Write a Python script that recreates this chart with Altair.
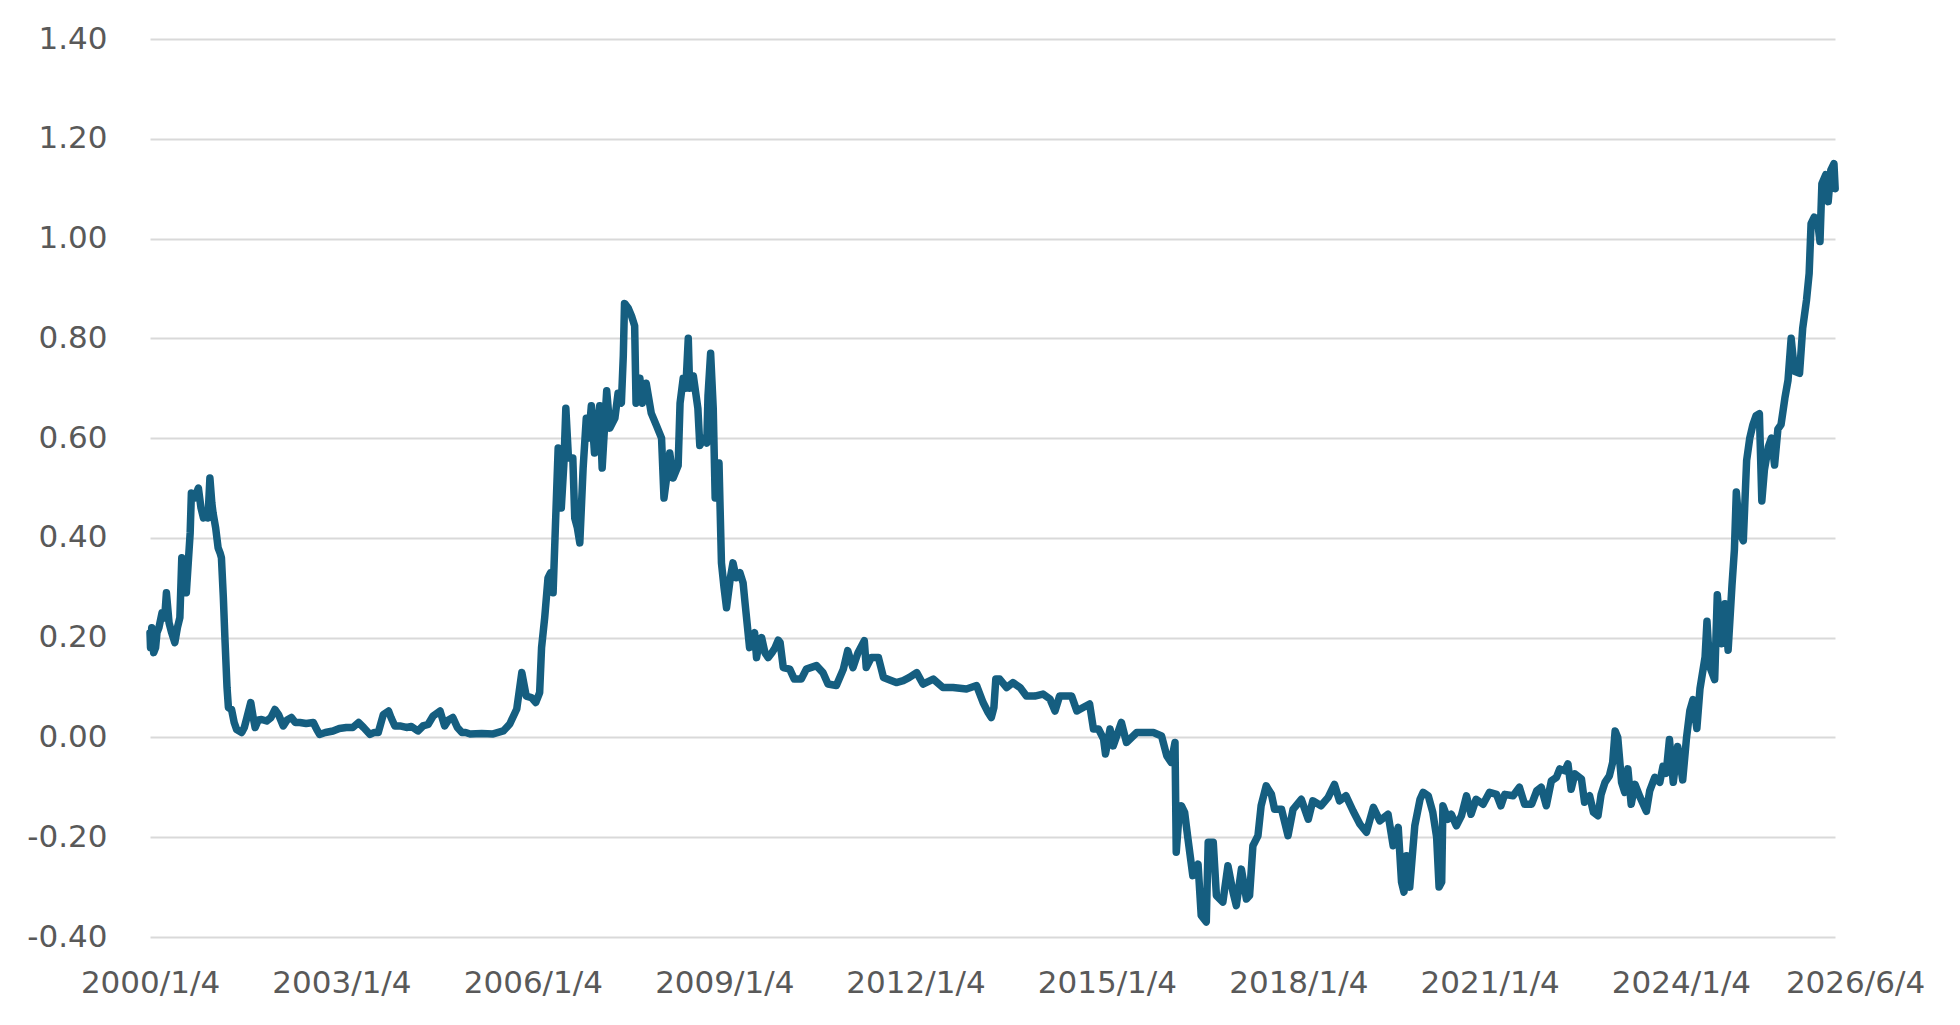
import altair as alt
import numpy as np
import pandas as pd

# years elapsed since 2000/1/4
years_since_start = [
    0.00, 0.01, 0.03, 0.06, 0.09, 0.11, 0.14, 0.19, 0.23, 0.26, 0.30, 0.34, 0.39, 0.43, 0.47, 0.50,
    0.54, 0.57, 0.60, 0.63, 0.65, 0.70, 0.76, 0.80, 0.84, 0.88, 0.91, 0.94, 0.97, 0.99, 1.03, 1.07,
    1.10, 1.12, 1.15, 1.18, 1.21, 1.23, 1.28, 1.32, 1.36, 1.44, 1.48, 1.52, 1.58, 1.62, 1.65, 1.70,
    1.75, 1.83, 1.90, 1.96, 2.02, 2.09, 2.15, 2.22, 2.28, 2.35, 2.45, 2.56, 2.62, 2.66, 2.75, 2.87,
    2.97, 3.08, 3.18, 3.27, 3.35, 3.45, 3.52, 3.58, 3.66, 3.74, 3.78, 3.84, 3.92, 4.02, 4.10, 4.20,
    4.28, 4.36, 4.44, 4.55, 4.62, 4.68, 4.75, 4.82, 4.89, 4.95, 5.02, 5.20, 5.38, 5.54, 5.64, 5.75,
    5.83, 5.90, 5.98, 6.05, 6.11, 6.14, 6.19, 6.24, 6.28, 6.32, 6.35, 6.40, 6.45, 6.49, 6.52, 6.56,
    6.63, 6.66, 6.70, 6.74, 6.79, 6.84, 6.88, 6.92, 6.97, 7.01, 7.05, 7.09, 7.13, 7.16, 7.21, 7.29,
    7.34, 7.39, 7.42, 7.44, 7.50, 7.55, 7.60, 7.62, 7.68, 7.72, 7.78, 7.86, 7.94, 8.02, 8.06, 8.10,
    8.15, 8.20, 8.28, 8.31, 8.36, 8.40, 8.44, 8.46, 8.52, 8.59, 8.62, 8.68, 8.73, 8.75, 8.79, 8.83,
    8.86, 8.92, 8.96, 9.00, 9.04, 9.10, 9.14, 9.19, 9.25, 9.30, 9.33, 9.40, 9.45, 9.48, 9.51, 9.55,
    9.59, 9.64, 9.69, 9.75, 9.80, 9.85, 9.88, 9.93, 10.03, 10.10, 10.21, 10.29, 10.45, 10.55, 10.63, 10.76,
    10.87, 10.94, 11.02, 11.10, 11.20, 11.23, 11.31, 11.42, 11.50, 11.60, 11.70, 11.81, 11.90, 12.02, 12.12, 12.28,
    12.43, 12.59, 12.80, 12.96, 13.06, 13.14, 13.19, 13.23, 13.26, 13.32, 13.43, 13.53, 13.64, 13.74, 13.87, 14.00,
    14.11, 14.19, 14.26, 14.45, 14.53, 14.63, 14.73, 14.79, 14.87, 14.95, 14.98, 15.05, 15.10, 15.23, 15.31, 15.47,
    15.73, 15.86, 15.94, 16.01, 16.07, 16.09, 16.13, 16.17, 16.22, 16.27, 16.35, 16.43, 16.48, 16.56, 16.59, 16.67,
    16.72, 16.82, 16.90, 16.98, 17.03, 17.11, 17.19, 17.24, 17.29, 17.37, 17.42, 17.50, 17.58, 17.63, 17.74, 17.84,
    17.92, 18.05, 18.16, 18.23, 18.36, 18.47, 18.57, 18.65, 18.75, 18.86, 18.97, 19.07, 19.18, 19.28, 19.41, 19.49,
    19.57, 19.62, 19.66, 19.70, 19.75, 19.83, 19.91, 19.96, 20.04, 20.11, 20.17, 20.21, 20.25, 20.27, 20.35, 20.40,
    20.48, 20.56, 20.64, 20.71, 20.79, 20.90, 21.00, 21.11, 21.18, 21.24, 21.37, 21.47, 21.55, 21.66, 21.74, 21.81,
    21.89, 21.97, 22.05, 22.10, 22.18, 22.23, 22.28, 22.34, 22.44, 22.49, 22.57, 22.63, 22.70, 22.75, 22.81, 22.88,
    22.93, 22.97, 23.01, 23.07, 23.12, 23.17, 23.22, 23.28, 23.36, 23.46, 23.51, 23.59, 23.67, 23.72, 23.77, 23.82,
    23.88, 23.95, 24.03, 24.09, 24.14, 24.19, 24.25, 24.30, 24.38, 24.41, 24.45, 24.53, 24.57, 24.64, 24.69, 24.74,
    24.80, 24.84, 24.87, 24.92, 24.98, 25.03, 25.08, 25.13, 25.18, 25.23, 25.27, 25.31, 25.37, 25.42, 25.47, 25.52,
    25.57, 25.63, 25.68, 25.73, 25.78, 25.86, 25.91, 25.97, 26.01, 26.04, 26.09, 26.14, 26.18, 26.21, 26.27, 26.31,
    26.35, 26.40, 26.42,
]

yields = [
    0.21, 0.18, 0.22, 0.17, 0.18, 0.21, 0.22, 0.25, 0.24, 0.29, 0.23, 0.21, 0.19, 0.22, 0.24, 0.36,
    0.31, 0.29, 0.35, 0.41, 0.49, 0.48, 0.50, 0.46, 0.44, 0.45, 0.44, 0.52, 0.47, 0.45, 0.42, 0.38,
    0.37, 0.36, 0.28, 0.19, 0.10, 0.06, 0.056, 0.03, 0.016, 0.01, 0.02, 0.04, 0.07, 0.04, 0.02, 0.035,
    0.036, 0.033, 0.04, 0.056, 0.045, 0.023, 0.035, 0.04, 0.03, 0.03, 0.028, 0.03, 0.015, 0.006, 0.01, 0.013,
    0.018, 0.02, 0.02, 0.03, 0.02, 0.006, 0.01, 0.01, 0.046, 0.053, 0.04, 0.023, 0.023, 0.02, 0.022, 0.013,
    0.023, 0.026, 0.043, 0.053, 0.023, 0.035, 0.04, 0.02, 0.01, 0.01, 0.007, 0.008, 0.007, 0.013, 0.027, 0.057,
    0.13, 0.083, 0.08, 0.07, 0.09, 0.18, 0.24, 0.32, 0.33, 0.29, 0.40, 0.58, 0.46, 0.55, 0.66, 0.56,
    0.56, 0.44, 0.42, 0.39, 0.54, 0.64, 0.60, 0.665, 0.57, 0.62, 0.665, 0.54, 0.63, 0.695, 0.62, 0.64,
    0.69, 0.67, 0.765, 0.87, 0.86, 0.845, 0.825, 0.67, 0.72, 0.67, 0.71, 0.65, 0.625, 0.60, 0.48, 0.52,
    0.57, 0.52, 0.545, 0.67, 0.72, 0.70, 0.80, 0.70, 0.725, 0.66, 0.585, 0.60, 0.59, 0.685, 0.77, 0.66,
    0.48, 0.55, 0.35, 0.30, 0.26, 0.32, 0.35, 0.32, 0.33, 0.31, 0.27, 0.18, 0.20, 0.21, 0.16, 0.19,
    0.20, 0.17, 0.16, 0.17, 0.18, 0.195, 0.19, 0.14, 0.137, 0.117, 0.117, 0.137, 0.144, 0.13, 0.107, 0.104,
    0.137, 0.174, 0.14, 0.17, 0.194, 0.14, 0.16, 0.16, 0.12, 0.115, 0.11, 0.114, 0.12, 0.13, 0.107, 0.117,
    0.10, 0.10, 0.097, 0.104, 0.07, 0.05, 0.04, 0.06, 0.117, 0.117, 0.10, 0.11, 0.10, 0.083, 0.083, 0.087,
    0.077, 0.053, 0.083, 0.083, 0.053, 0.06, 0.067, 0.017, 0.017, -0.003, -0.033, 0.017, -0.017, 0.03, -0.01, 0.01,
    0.01, 0.003, -0.037, -0.05, -0.01, -0.23, -0.16, -0.137, -0.15, -0.20, -0.277, -0.254, -0.357, -0.37, -0.21, -0.21,
    -0.317, -0.33, -0.257, -0.31, -0.337, -0.264, -0.324, -0.317, -0.217, -0.197, -0.137, -0.097, -0.114, -0.144, -0.144, -0.197,
    -0.144, -0.124, -0.164, -0.127, -0.137, -0.12, -0.094, -0.127, -0.117, -0.147, -0.174, -0.19, -0.14, -0.167, -0.154, -0.217,
    -0.18, -0.29, -0.31, -0.237, -0.30, -0.177, -0.124, -0.11, -0.117, -0.15, -0.20, -0.30, -0.29, -0.137, -0.164, -0.154,
    -0.177, -0.157, -0.117, -0.154, -0.124, -0.134, -0.11, -0.114, -0.137, -0.114, -0.117, -0.10, -0.134, -0.134, -0.107, -0.10,
    -0.137, -0.087, -0.08, -0.063, -0.067, -0.053, -0.104, -0.073, -0.083, -0.13, -0.117, -0.15, -0.157, -0.114, -0.09, -0.077,
    -0.05, 0.013, 0.0, -0.09, -0.11, -0.063, -0.134, -0.094, -0.12, -0.148, -0.107, -0.08, -0.09, -0.058, -0.072, -0.004,
    -0.09, -0.018, -0.085, 0.0, 0.054, 0.076, 0.018, 0.098, 0.161, 0.233, 0.143, 0.116, 0.286, 0.188, 0.268, 0.175,
    0.304, 0.376, 0.492, 0.412, 0.394, 0.555, 0.60, 0.627, 0.645, 0.649, 0.474, 0.537, 0.582, 0.60, 0.546, 0.618,
    0.627, 0.68, 0.716, 0.80, 0.734, 0.73, 0.82, 0.877, 0.93, 1.03, 1.043, 1.038, 0.994, 1.11, 1.128, 1.074,
    1.137, 1.15, 1.10,
]

y_ticks = [-0.4, -0.2, 0.0, 0.2, 0.4, 0.6, 0.8, 1.0, 1.2, 1.4]
x_tick_dates = [(2000, 1, 4), (2003, 1, 4), (2006, 1, 4), (2009, 1, 4), (2012, 1, 4),
                (2015, 1, 4), (2018, 1, 4), (2021, 1, 4), (2024, 1, 4), (2026, 6, 4)]

start = pd.Timestamp("2000-01-04")
dates = start + pd.to_timedelta(np.array(years_since_start) * 365.25, unit="D")
df = pd.DataFrame({"date": dates.normalize().strftime("%Y-%m-%d"), "value": yields})

tick_vals = [alt.DateTime(year=y, month=m, date=d) for (y, m, d) in x_tick_dates]

chart = alt.Chart(df).mark_line(
    color="#155E80", strokeWidth=7.5, strokeJoin="round", strokeCap="round"
).encode(
    x=alt.X(
        "date:T",
        scale=alt.Scale(domain=[tick_vals[0], tick_vals[-1]]),
        axis=alt.Axis(
            title=None, values=tick_vals, format="%Y/%-m/%-d", grid=False, domain=False,
            ticks=False, labelFont="DejaVu Sans", labelFontSize=31, labelColor="#595959",
            labelPadding=31, labelFlush=False, labelOverlap=False,
            labelOffset={"condition": {"test": "year(datum.value) == 2026", "value": 20}, "value": 0},
        ),
    ),
    y=alt.Y(
        "value:Q",
        scale=alt.Scale(domain=[-0.4, 1.4], nice=False, zero=False),
        axis=alt.Axis(
            title=None, values=y_ticks, format=".2f",
            labelExpr="replace(datum.label, '\u2212', '-')",
            grid=True, gridColor="#D9D9D9",
            gridWidth=2, domain=False, ticks=False, labelFont="DejaVu Sans", labelFontSize=31,
            labelColor="#595959", labelPadding=43, labelFlush=False,
        ),
    ),
).properties(
    width=1685, height=898,
    autosize=alt.AutoSizeParams(type="none"),
    padding={"left": 150, "top": 39, "right": 125, "bottom": 88},
).configure_view(stroke=None)

chart.save("out.html", embed_options={"renderer": "svg", "actions": False})
